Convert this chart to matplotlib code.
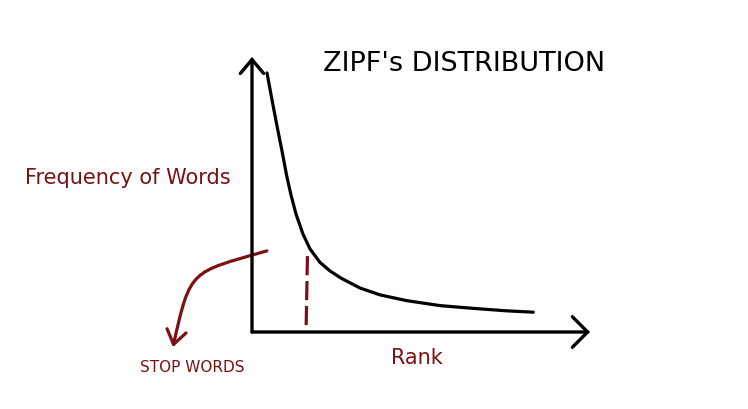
import matplotlib.pyplot as plt
from matplotlib.patches import FancyArrowPatch
from matplotlib.path import Path

# values (rank 0-100, frequency 0-100)
rank = [4.44, 5.92, 7.40, 8.88, 10.21, 11.54, 13.02, 15.09, 17.16, 20.12,
        23.08, 26.33, 31.95, 37.87, 45.77, 55.62, 65.38, 75.35, 83.22]
freq = [94.2, 84.4, 74.9, 65.8, 57.1, 49.8, 42.9, 35.6, 30.2, 25.3,
        22.2, 19.6, 16.0, 13.5, 11.4, 9.6, 8.6, 7.7, 7.2]
cutoff_rank = [16.4, 16.0]
cutoff_freq = [27.6, 0.6]

title = "ZIPF's DISTRIBUTION"
ylabel = "Frequency of Words"
xlabel = "Rank"
note = "STOP WORDS"

red = '#7a1214'
W, H = 748, 410

fig = plt.figure(figsize=(7.48, 4.10), dpi=100)
fig.patch.set_facecolor('white')
ax = fig.add_axes([252 / W, (H - 333) / H, (590 - 252) / W, (333 - 58) / H])
ax.set_xlim(0, 100)
ax.set_ylim(0, 100)
ax.axis('off')

# hand drawn axes with open arrow heads
ax.annotate('', xy=(1, 0), xytext=(0, 0), xycoords='axes fraction',
            arrowprops=dict(arrowstyle='->,head_length=0.55,head_width=0.55',
                            lw=2.4, color='black', shrinkA=0, shrinkB=0,
                            mutation_scale=20, joinstyle='miter'),
            annotation_clip=False)
ax.annotate('', xy=(0, 1), xytext=(0, 0), xycoords='axes fraction',
            arrowprops=dict(arrowstyle='->,head_length=0.5,head_width=0.42',
                            lw=2.4, color='black', shrinkA=0, shrinkB=0,
                            mutation_scale=20, joinstyle='miter'),
            annotation_clip=False)

ax.plot(rank, freq, color='black', lw=2.3, solid_capstyle='round',
        solid_joinstyle='round', clip_on=False)
ax.plot(cutoff_rank, cutoff_freq, color=red, lw=2.3, dashes=(6, 1.8), clip_on=False)

# curved pointer down to the "stop words" note
verts = [(4.4, 29.5), (-18.3, 21.5), (-18.2, 23.1), (-23.4, -5.5)]
codes = [Path.MOVETO, Path.CURVE4, Path.CURVE4, Path.CURVE4]
arr = FancyArrowPatch(path=Path(verts, codes), arrowstyle='->,head_length=0.5,head_width=0.35',
                      mutation_scale=20, color=red, lw=2.3, transform=ax.transData,
                      clip_on=False)
ax.add_patch(arr)

fig.text(464 / W, 1 - 64 / H, title, ha='center', va='center', fontsize=19.5, color='black')
fig.text(128 / W, 1 - 178 / H, ylabel, ha='center', va='center', fontsize=15, color=red)
fig.text(417 / W, 1 - 358 / H, xlabel, ha='center', va='center', fontsize=15, color=red)
fig.text(192 / W, 1 - 368 / H, note, ha='center', va='center', fontsize=11, color=red)

fig.savefig('out.png', dpi=100)
